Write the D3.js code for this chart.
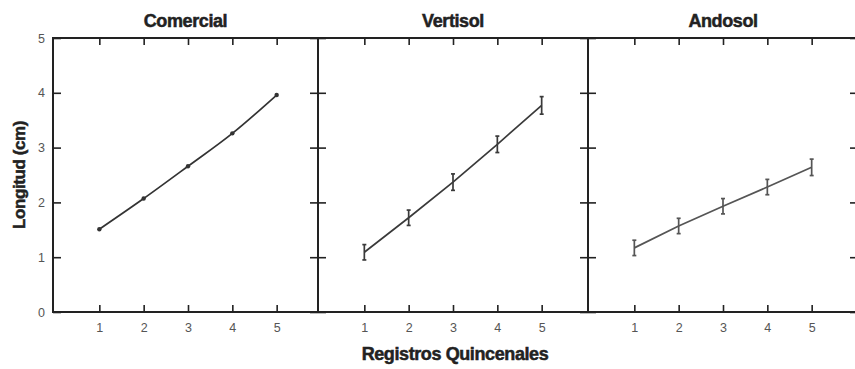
<!DOCTYPE html>
<html lang="en">
<head>
    <meta charset="UTF-8">
    <title>Longitud por sustrato</title>
    <style>
        body { margin: 0; background: #fff; }
        svg { display: block; font-family: "Liberation Sans", Arial, sans-serif; }
    </style>
</head>
<body>
    <div id="chart"></div>
    <script src="https://d3js.org/d3.v7.min.js"></script>
    <script>
        // data
        var registros = [1, 2, 3, 4, 5];
        var sustratos = ["Comercial", "Vertisol", "Andosol"];
        var comercial = [1.51, 2.07, 2.66, 3.26, 3.96];
        var comercialErr = [0.03, 0.03, 0.03, 0.03, 0.03];
        var vertisol = [1.09, 1.72, 2.37, 3.06, 3.77];
        var vertisolErr = [0.14, 0.14, 0.15, 0.15, 0.16];
        var andosol = [1.17, 1.57, 1.93, 2.28, 2.64];
        var andosolErr = [0.14, 0.14, 0.14, 0.14, 0.15];
        var yTicks = [0, 1, 2, 3, 4, 5];

        var series = [comercial, vertisol, andosol];
        var errors = [comercialErr, vertisolErr, andosolErr];

        var width = 855, height = 369;
        var plotTop = 38, plotBottom = 312;
        var borders = [53, 318, 588, 858];   // panel edges
        var lineColors = ["#333", "#3a3a3a", "#555"];

        var svg = d3.select("#chart").append("svg")
            .attr("width", width)
            .attr("height", height);

        var y = d3.scaleLinear().domain([0, 5]).range([plotBottom, plotTop]);
        var fmt = d3.format("d");

        function styleAxis(sel) {
            sel.select(".domain").remove();
            sel.selectAll(".tick line").attr("stroke", "#222").attr("stroke-width", 1.6);
            sel.selectAll(".tick text")
                .attr("fill", "#555")
                .attr("font-size", 12.5)
                .attr("font-family", "'Liberation Sans', Arial, sans-serif");
        }

        function boldText(sel, size) {
            sel.attr("font-weight", "bold")
                .attr("font-size", size)
                .attr("fill", "#222")
                .attr("stroke", "#222")
                .attr("stroke-width", 0.5)
                .attr("letter-spacing", -0.4);
        }

        sustratos.forEach(function(name, p) {
            var left = borders[p], right = borders[p + 1];
            var x = d3.scaleLinear().domain([0, 6]).range([left + 2, left + 2 + 266]);
            var g = svg.append("g");

            // frame
            g.append("rect")
                .attr("x", left).attr("y", plotTop)
                .attr("width", right - left).attr("height", plotBottom - plotTop)
                .attr("fill", "none")
                .attr("stroke", "#222")
                .attr("stroke-width", 2);

            // x ticks, inward on top and bottom
            g.append("g").attr("transform", "translate(0," + plotBottom + ")")
                .call(d3.axisBottom(x).tickValues(registros).tickFormat(fmt).tickSizeInner(-7).tickSizeOuter(0).tickPadding(11))
                .call(styleAxis);
            g.append("g").attr("transform", "translate(0," + plotTop + ")")
                .call(d3.axisTop(x).tickValues(registros).tickSizeInner(-7).tickSizeOuter(0).tickFormat(""))
                .call(styleAxis);

            // y ticks, inward on both sides
            var yl = d3.axisLeft(y).tickValues(yTicks).tickFormat(p > 0 ? "" : fmt)
                .tickSizeInner(-8).tickSizeOuter(0).tickPadding(8);
            g.append("g").attr("transform", "translate(" + left + ",0)")
                .call(yl).call(styleAxis);
            g.append("g").attr("transform", "translate(" + right + ",0)")
                .call(d3.axisRight(y).tickValues(yTicks).tickSizeInner(-8).tickSizeOuter(0).tickFormat(""))
                .call(styleAxis);

            // title
            svg.append("text")
                .attr("x", (left + right) / 2)
                .attr("y", 27)
                .attr("text-anchor", "middle")
                .call(boldText, 18)
                .text(name);

            var pts = registros.map(function(r, i) {
                return { x: r, y: series[p][i], e: errors[p][i] };
            });

            var line = d3.line()
                .x(function(d) { return x(d.x); })
                .y(function(d) { return y(d.y); })
                .curve(p === 0 ? d3.curveMonotoneX : d3.curveLinear);

            g.append("path")
                .datum(pts)
                .attr("d", line)
                .attr("fill", "none")
                .attr("stroke", lineColors[p])
                .attr("stroke-width", 1.7);

            if (p === 0) {
                g.selectAll(".dot").data(pts).enter().append("circle")
                    .attr("cx", function(d) { return x(d.x); })
                    .attr("cy", function(d) { return y(d.y); })
                    .attr("r", 2.2)
                    .attr("fill", "#333");
            } else {
                var eb = g.selectAll(".err").data(pts).enter().append("g")
                    .attr("stroke", lineColors[p])
                    .attr("stroke-width", 1.7);
                eb.append("line")
                    .attr("x1", function(d) { return x(d.x); })
                    .attr("x2", function(d) { return x(d.x); })
                    .attr("y1", function(d) { return y(d.y - d.e); })
                    .attr("y2", function(d) { return y(d.y + d.e); });
                [-1, 1].forEach(function(s) {
                    eb.append("line")
                        .attr("x1", function(d) { return x(d.x) - 2; })
                        .attr("x2", function(d) { return x(d.x) + 2; })
                        .attr("y1", function(d) { return y(d.y + s * d.e); })
                        .attr("y2", function(d) { return y(d.y + s * d.e); });
                });
            }
        });

        // axis titles
        svg.append("text")
            .attr("transform", "translate(25," + ((plotTop + plotBottom) / 2) + ") rotate(-90)")
            .attr("text-anchor", "middle")
            .call(boldText, 17)
            .text("Longitud (cm)");

        svg.append("text")
            .attr("x", 455)
            .attr("y", 360)
            .attr("text-anchor", "middle")
            .call(boldText, 18)
            .text("Registros Quincenales");
    </script>
</body>
</html>
